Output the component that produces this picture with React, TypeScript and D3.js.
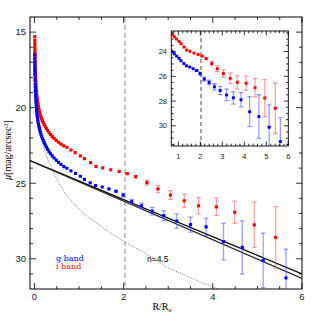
import * as d3 from "d3";
import React from "react";

// i band (red) profile: R/Re and surface brightness
const rI = [0.006, 0.007, 0.008, 0.009, 0.010, 0.011, 0.012, 0.013, 0.015, 0.016, 0.018, 0.020, 0.022, 0.024, 0.027, 0.030, 0.033, 0.036, 0.040, 0.044, 0.049, 0.054, 0.060, 0.066, 0.073, 0.080, 0.089, 0.098, 0.109, 0.120, 0.133, 0.147, 0.162, 0.179, 0.198, 0.219, 0.242, 0.268, 0.296, 0.327, 0.361, 0.399, 0.441, 0.488, 0.539, 0.595, 0.658, 0.727, 0.818, 0.912, 1.03, 1.12, 1.26, 1.38, 1.53, 1.71, 1.90, 2.08, 2.27, 2.52, 2.77, 3.05, 3.36, 3.68, 4.08, 4.49, 4.93, 5.41];
const muI = [15.30, 15.55, 15.75, 15.95, 16.15, 16.35, 16.50, 16.65, 16.90, 17.05, 17.30, 17.50, 17.68, 17.85, 18.05, 18.25, 18.42, 18.57, 18.75, 18.90, 19.07, 19.22, 19.38, 19.52, 19.67, 19.80, 19.95, 20.08, 20.22, 20.35, 20.48, 20.62, 20.74, 20.86, 20.99, 21.12, 21.25, 21.38, 21.51, 21.65, 21.78, 21.91, 22.03, 22.16, 22.29, 22.41, 22.53, 22.62, 22.80, 22.98, 23.19, 23.37, 23.64, 23.88, 23.98, 24.11, 24.23, 24.36, 24.57, 24.96, 25.38, 25.78, 26.16, 26.49, 26.56, 26.92, 27.75, 28.58];
// errors of the outermost i band points (last entries of rI)
const errI = [0.05, 0.08, 0.17, 0.24, 0.29, 0.43, 0.54, 0.57, 0.73, 1.5, 2.04];

// g band (blue) profile
const rG = [0.006, 0.007, 0.008, 0.009, 0.010, 0.011, 0.012, 0.013, 0.015, 0.016, 0.018, 0.020, 0.022, 0.024, 0.027, 0.030, 0.033, 0.036, 0.040, 0.044, 0.049, 0.054, 0.060, 0.066, 0.073, 0.080, 0.089, 0.098, 0.109, 0.120, 0.133, 0.147, 0.162, 0.179, 0.198, 0.219, 0.242, 0.268, 0.296, 0.327, 0.361, 0.399, 0.441, 0.488, 0.539, 0.595, 0.658, 0.727, 0.818, 0.920, 1.03, 1.12, 1.25, 1.37, 1.52, 1.67, 1.83, 1.99, 2.18, 2.40, 2.64, 2.90, 3.19, 3.50, 3.85, 4.24, 4.66, 5.13, 5.64];
const muG = [16.50, 16.75, 16.98, 17.18, 17.38, 17.55, 17.70, 17.85, 18.10, 18.22, 18.45, 18.65, 18.83, 18.98, 19.18, 19.36, 19.52, 19.67, 19.85, 20.00, 20.18, 20.33, 20.50, 20.64, 20.80, 20.93, 21.08, 21.21, 21.36, 21.49, 21.63, 21.77, 21.90, 22.04, 22.18, 22.32, 22.46, 22.61, 22.76, 22.91, 23.05, 23.19, 23.33, 23.47, 23.62, 23.76, 23.90, 24.01, 24.18, 24.35, 24.54, 24.75, 24.97, 25.15, 25.25, 25.38, 25.53, 25.78, 26.22, 26.50, 26.85, 27.15, 27.50, 27.74, 27.89, 28.86, 29.25, 30.11, 31.26];
const errG = [0.06, 0.12, 0.15, 0.18, 0.25, 0.33, 0.47, 0.5, 0.58, 1.21, 1.76, 1.81, 1.9];

// Sersic n=4.5 model (dotted)
const sersicR = [0.12, 0.24, 0.39, 0.46, 0.7, 1.0, 1.47, 2.0, 2.59, 2.82, 3.42, 3.94, 4.3];
const sersicMu = [21.2, 22.9, 24.0, 24.44, 25.7, 26.7, 27.8, 28.84, 29.83, 30.3, 31.15, 31.8, 32.2];

// exponential fits (two lines)
const fitR = [-0.1, 6];
const fitMuA = [23.5, 31.0];
const fitMuB = [23.5, 31.3];

const reLine = 2.03;

const mainXTicks = [0, 2, 4, 6];
const mainYTicks = [15, 20, 25, 30];
const insetXTicks = [1, 2, 3, 4, 5, 6];
const insetYTicks = [24, 26, 28, 30];

const RED = "#ff0000";
const BLUE = "#0000ff";
const sans = "'Liberation Sans', Arial, sans-serif";
const serif = "'Liberation Serif', 'Times New Roman', serif";
const wideSerif = "'DejaVu Serif', serif";

type Scale = d3.ScaleLinear<number, number>;

function Profile({ x, y, r, mu, err, color, errColor, size }: { x: Scale; y: Scale; r: number[]; mu: number[]; err: number[]; color: string; errColor: string; size: number }) {
  const offset = r.length - err.length;
  return (
    <g>
      {err.map((e, i) => {
        const k = i + offset;
        const cx = x(r[k]);
        return (
          <g key={"e" + i} stroke={errColor} strokeWidth={1.3}>
            <line x1={cx} x2={cx} y1={y(mu[k] - e)} y2={y(mu[k] + e)} />
            <line x1={cx - 2.3} x2={cx + 2.3} y1={y(mu[k] - e)} y2={y(mu[k] - e)} />
            <line x1={cx - 2.3} x2={cx + 2.3} y1={y(mu[k] + e)} y2={y(mu[k] + e)} />
          </g>
        );
      })}
      {r.map((rv, i) => (
        <rect key={i} x={x(rv) - size / 2} y={y(mu[i]) - size / 2} width={size} height={size} rx={0.6} fill={color} />
      ))}
    </g>
  );
}

function Ticks({ x, y, xMajor, xMinor, yMajor, yMinor, big, small }: { x: Scale; y: Scale; xMajor: number[]; xMinor: number[]; yMajor: number[]; yMinor: number[]; big: number; small: number }) {
  const [x0, x1] = x.range();
  const [y0, y1] = y.range();
  const xs = [...xMajor.map((v) => [v, big]), ...xMinor.map((v) => [v, small])];
  const ys = [...yMajor.map((v) => [v, big]), ...yMinor.map((v) => [v, small])];
  return (
    <g stroke="#000" strokeWidth={0.8}>
      {xs.map(([v, l], i) => (
        <g key={"x" + i}>
          <line x1={x(v)} x2={x(v)} y1={y1} y2={y1 - l} />
          <line x1={x(v)} x2={x(v)} y1={y0} y2={y0 + l} />
        </g>
      ))}
      {ys.map(([v, l], i) => (
        <g key={"y" + i}>
          <line x1={x0} x2={x0 + l} y1={y(v)} y2={y(v)} />
          <line x1={x1} x2={x1 - l} y1={y(v)} y2={y(v)} />
        </g>
      ))}
    </g>
  );
}

export default function App() {
  const x = d3.scaleLinear().domain([-0.1, 6]).range([30, 302]);
  const y = d3.scaleLinear().domain([14, 32]).range([17, 289]);
  const xi = d3.scaleLinear().domain([0.68, 6]).range([171.3, 288.3]);
  const yi = d3.scaleLinear().domain([22.34, 31.63]).range([31, 146]);

  const sersicLine = d3.line<number>().x((_, i) => x(sersicR[i])).y((d) => y(d)).curve(d3.curveMonotoneX);
  const fitLine = d3.line<number>().x((_, i) => x(fitR[i])).y((d) => y(d));

  const mainXMinor = d3.range(0.5, 6, 0.5).filter((v) => v % 2 !== 0);
  const mainYMinor = d3.range(15, 32, 1).filter((v) => v % 5 !== 0);
  const insetXMinor = d3.range(0.8, 6, 0.2).filter((v) => Math.abs(v - Math.round(v)) > 0.05);
  const insetYMinor = d3.range(22.5, 31.6, 0.5).filter((v) => !insetYTicks.includes(v));

  return (
    <svg width={319} height={319} style={{ position: "absolute", left: 0, top: 0, background: "#fff" }}>
      <defs>
        <clipPath id="mainClip">
          <rect x={30} y={17} width={272} height={272} />
        </clipPath>
        <clipPath id="insetClip">
          <rect x={171.3} y={31} width={117} height={115} />
        </clipPath>
      </defs>

      {/* main panel */}
      <g clipPath="url(#mainClip)">
        <line x1={x(reLine)} x2={x(reLine)} y1={17} y2={289} stroke="#888" strokeWidth={1} strokeDasharray="5,3" />
        <path d={sersicLine(sersicMu) ?? ""} fill="none" stroke="#444" strokeWidth={0.7} strokeDasharray="1,1.3" />
        <path d={fitLine(fitMuA) ?? ""} fill="none" stroke="#000" strokeWidth={1.2} />
        <path d={fitLine(fitMuB) ?? ""} fill="none" stroke="#222" strokeWidth={1.1} />
        <Profile x={x} y={y} r={rI} mu={muI} err={errI} color={RED} errColor="rgba(255,90,90,0.55)" size={3.2} />
        <Profile x={x} y={y} r={rG} mu={muG} err={errG} color={BLUE} errColor="rgba(80,80,255,0.55)" size={3.2} />
      </g>
      <Ticks x={x} y={y} xMajor={mainXTicks} xMinor={mainXMinor} yMajor={mainYTicks} yMinor={mainYMinor} big={6} small={3} />
      <rect x={30} y={17} width={272} height={272} fill="none" stroke="#000" strokeWidth={1} />
      {mainYTicks.map((t) => (
        <text key={t} x={26} y={y(t)} dy="0.35em" textAnchor="end" fontSize={9.5} fontFamily={sans} fill="#222">{t}</text>
      ))}
      {mainXTicks.map((t) => (
        <text key={t} x={x(t)} y={297} dy="0.35em" textAnchor="middle" fontSize={9.5} fontFamily={sans} fill="#222">{t}</text>
      ))}
      <text x={162} y={310} textAnchor="middle" fontSize={10} fontFamily={serif}>
        R/R<tspan fontSize={7} dy={2}>e</tspan>
      </text>
      <text transform="translate(11,150) rotate(-90)" textAnchor="middle" fontSize={10} fontFamily={serif}>
        <tspan fontStyle="italic">μ</tspan>[mag/arcsec<tspan fontSize={6.5} dy={-3.5}>2</tspan><tspan dy={3.5}>]</tspan>
      </text>
      <text x={147} y={262} fontSize={8.5} fontFamily={sans}>n=4.5</text>
      <text x={56} y={260.5} fontSize={8} fontFamily={wideSerif} fill={BLUE}>g band</text>
      <text x={56} y={268.5} fontSize={8} fontFamily={wideSerif} fill={RED}>i band</text>

      {/* inset panel */}
      <rect x={171.3} y={31} width={117} height={115} fill="#fff" />
      <g clipPath="url(#insetClip)">
        <line x1={xi(reLine)} x2={xi(reLine)} y1={31} y2={146} stroke="#333" strokeWidth={0.9} strokeDasharray="4,3" />
        <Profile x={xi} y={yi} r={rI} mu={muI} err={errI} color={RED} errColor="rgba(255,90,90,0.55)" size={3} />
        <Profile x={xi} y={yi} r={rG} mu={muG} err={errG} color={BLUE} errColor="rgba(80,80,255,0.55)" size={3} />
      </g>
      <Ticks x={xi} y={yi} xMajor={insetXTicks} xMinor={insetXMinor} yMajor={insetYTicks} yMinor={insetYMinor} big={4.5} small={2.3} />
      <rect x={171.3} y={31} width={117} height={115} fill="none" stroke="#000" strokeWidth={0.9} />
      {insetYTicks.map((t) => (
        <text key={t} x={167} y={yi(t)} dy="0.35em" textAnchor="end" fontSize={7.5} fontFamily={sans} fill="#222">{t}</text>
      ))}
      {insetXTicks.map((t) => (
        <text key={t} x={xi(t)} y={156.5} dy="0.35em" textAnchor="middle" fontSize={7.5} fontFamily={sans} fill="#222">{t}</text>
      ))}
    </svg>
  );
}
